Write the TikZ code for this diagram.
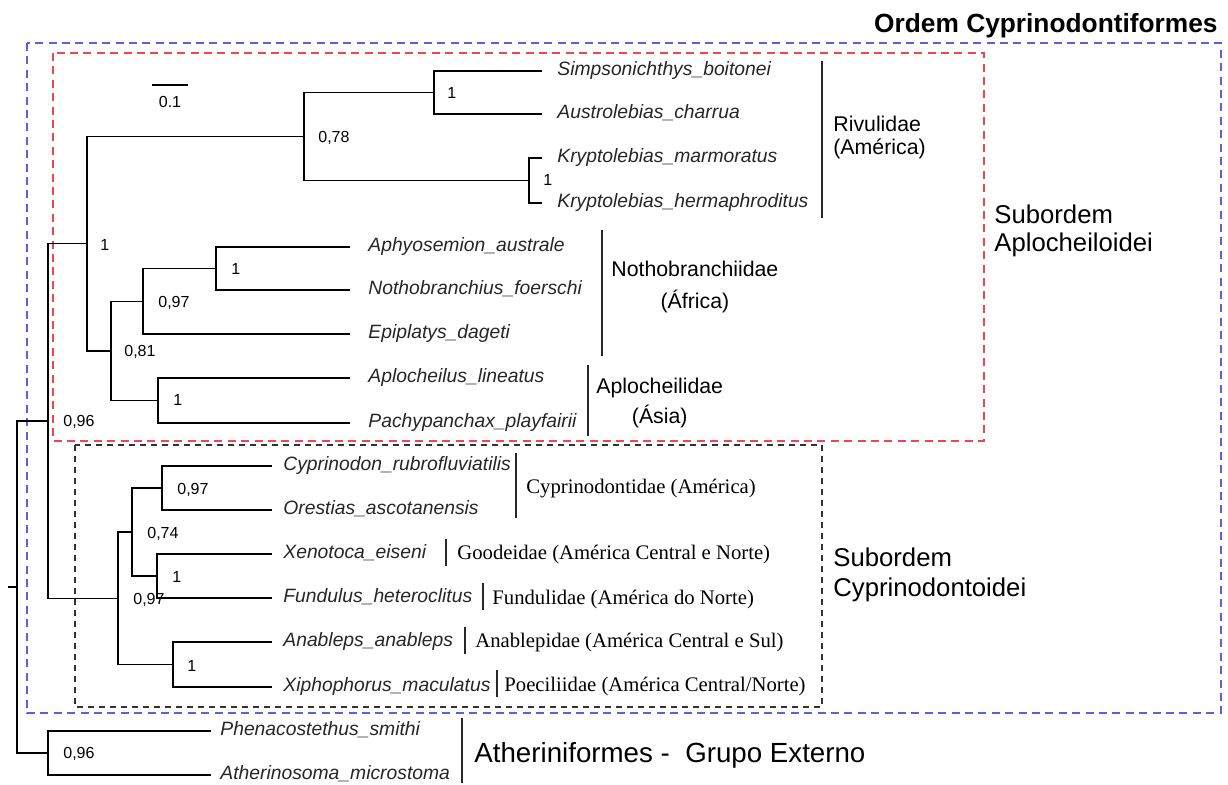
\documentclass[tikz,border=0pt]{standalone}
\usepackage{fontspec}
\setmainfont{Liberation Sans}
\newfontfamily\famserif{Liberation Serif}
\usepackage{tikz}
\usetikzlibrary{positioning}
\usepackage{xcolor}
\definecolor{ordblue}{RGB}{95,95,220}
\definecolor{subred}{RGB}{236,70,82}
\definecolor{bargray}{RGB}{40,40,40}
\tikzstyle{branch} = [line width=0.75pt]
\tikzstyle{famline} = [line width=0.8pt, bargray]
\tikzstyle{taxon} = [inner sep=0pt, font=\fontsize{9.65}{11}\selectfont\itshape, text height=5pt, text depth=0pt, black!85]
\tikzstyle{support} = [inner sep=0pt, anchor=west, font=\fontsize{8}{9}\selectfont, text height=5.7pt, text depth=0pt]
\tikzstyle{famsans} = [inner sep=0pt, anchor=west, font=\fontsize{10.65}{12}\selectfont, text height=7.6pt, text depth=0pt]
\tikzstyle{famtimes} = [inner sep=0pt, anchor=west, font=\famserif\fontsize{10.35}{12}\selectfont, text height=6.85pt, text depth=0pt]
\tikzstyle{grouplbl} = [inner sep=0pt, anchor=west, font=\fontsize{12.85}{14}\selectfont, text height=9.2pt, text depth=0pt]
\tikzstyle{ordbox} = [ordblue, line width=0.6pt, dash pattern=on 4pt off 2.7pt]
\tikzstyle{subbox} = [subred, line width=0.6pt, dash pattern=on 4pt off 2.7pt]
\tikzstyle{cypbox} = [black!80, line width=0.55pt, dash pattern=on 3pt off 2.5pt]

\begin{document}
\begin{tikzpicture}[x=0.5pt, y=-0.5pt]
  \useasboundingbox (0,0) rectangle (1228,785);

  % dashed group boxes
  \draw[ordbox] (27,43) rectangle (1221,713);
  \draw[subbox] (53,53) rectangle (984,441);
  \draw[cypbox] (75,445) rectangle (822,707);

  % internal nodes
  \coordinate (rootstub) at (8,587);
  \coordinate (root) at (17,587);
  \coordinate (cyp) at (48,421);
  \coordinate (out) at (48,753);
  \coordinate (aplo) at (87,243.7);
  \coordinate (riv) at (304,136.5);
  \coordinate (sim) at (434,92.5);
  \coordinate (kry) at (529,180.5);
  \coordinate (afas) at (111,351);
  \coordinate (noth) at (143,301.3);
  \coordinate (aphy) at (216,268.5);
  \coordinate (asia) at (158,400.5);
  \coordinate (cypd) at (118,598.3);
  \coordinate (mid) at (132,532);
  \coordinate (cyprin) at (162,488);
  \coordinate (good) at (157,576);
  \coordinate (anab) at (173,664.5);

  % tips
  \coordinate (t1) at (542,71);
  \coordinate (t2) at (542,114);
  \coordinate (t3) at (542,158);
  \coordinate (t4) at (542,203);
  \coordinate (t5) at (350,247);
  \coordinate (t6) at (350,290);
  \coordinate (t7) at (350,334);
  \coordinate (t8) at (350,378);
  \coordinate (t9) at (350,423);
  \coordinate (t10) at (272,466);
  \coordinate (t11) at (272,510);
  \coordinate (t12) at (272,554);
  \coordinate (t13) at (272,598);
  \coordinate (t14) at (272,642);
  \coordinate (t15) at (272,687);
  \coordinate (t16) at (211,731);
  \coordinate (t17) at (211,775);

  % branches
  \draw[branch] (rootstub) -- (root)
    (root) |- (cyp) (root) |- (out)
    (cyp) |- (aplo) (cyp) |- (cypd)
    (aplo) |- (riv) (aplo) |- (afas)
    (riv) |- (sim) (riv) |- (kry)
    (sim) |- (t1) (sim) |- (t2)
    (kry) |- (t3) (kry) |- (t4)
    (afas) |- (noth) (afas) |- (asia)
    (noth) |- (aphy) (noth) |- (t7)
    (aphy) |- (t5) (aphy) |- (t6)
    (asia) |- (t8) (asia) |- (t9)
    (cypd) |- (mid) (cypd) |- (anab)
    (mid) |- (cyprin) (mid) |- (good)
    (cyprin) |- (t10) (cyprin) |- (t11)
    (good) |- (t12) (good) |- (t13)
    (anab) |- (t14) (anab) |- (t15)
    (out) |- (t16) (out) |- (t17);

  % taxa
  \node[taxon, right=7.5pt of t1] (simpson) {Simpsonichthys\_boitonei};
  \node[taxon, right=7.5pt of t2] (austro) {Austrolebias\_charrua};
  \node[taxon, right=7.5pt of t3] (krymar) {Kryptolebias\_marmoratus};
  \node[taxon, right=7.5pt of t4] (kryher) {Kryptolebias\_hermaphroditus};
  \node[taxon, right=9pt of t5] (aphyo) {Aphyosemion\_australe};
  \node[taxon, right=9pt of t6] (notho) {Nothobranchius\_foerschi};
  \node[taxon, right=9pt of t7] (epipl) {Epiplatys\_dageti};
  \node[taxon, right=9pt of t8] (aploch) {Aplocheilus\_lineatus};
  \node[taxon, right=9pt of t9] (pachy) {Pachypanchax\_playfairii};
  \node[taxon, right=5.5pt of t10] (cyprino) {Cyprinodon\_rubrofluviatilis};
  \node[taxon, right=5.5pt of t11] (orest) {Orestias\_ascotanensis};
  \node[taxon, right=5.5pt of t12] (xeno) {Xenotoca\_eiseni};
  \node[taxon, right=5.5pt of t13] (fundu) {Fundulus\_heteroclitus};
  \node[taxon, right=5.5pt of t14] (anabl) {Anableps\_anableps};
  \node[taxon, right=5.5pt of t15] (xipho) {Xiphophorus\_maculatus};
  \node[taxon, right=4.5pt of t16] (phena) {Phenacostethus\_smithi};
  \node[taxon, right=4.5pt of t17] (ather) {Atherinosoma\_microstoma};

  % support values
  \node[support] (s1) at (447,93) {1};
  \node[support] (s2) at (318,137) {0,78};
  \node[support] (s3) at (543,180) {1};
  \node[support] (s4) at (100,245) {1};
  \node[support] (s5) at (231,269) {1};
  \node[support] (s6) at (158,302) {0,97};
  \node[support] (s7) at (124,351) {0,81};
  \node[support] (s8) at (173,400) {1};
  \node[support] (s9) at (63,421) {0,96};
  \node[support] (s10) at (177,489) {0,97};
  \node[support] (s11) at (147,533) {0,74};
  \node[support] (s12) at (172,577) {1};
  \node[support] (s13) at (133,599) {0,97};
  \node[support] (s14) at (187,666) {1};
  \node[support] (s15) at (63,753) {0,96};

  % scale bar
  \coordinate (sbl) at (152,85);
  \coordinate (sbr) at (188,85);
  \draw[line width=0.6pt] (sbl) -- (sbr);
  \node[support, anchor=center] (sbtxt) at (170,102) {0.1};

  % families
  \draw[famline] (822,61) -- (822,218);
  \node[famsans] (rivLbl) at (833,124) {Rivulidae};
  \node[famsans] (rivReg) at (833,147) {(América)};
  \draw[famline] (602,230) -- (602,356);
  \node[famsans] (nothLbl) at (611,269) {Nothobranchiidae};
  \coordinate (afrY) at (0,301);
  \node[famsans, anchor=center] (nothReg) at (nothLbl.center |- afrY) {(África)};
  \draw[famline] (588,365) -- (588,436);
  \node[famsans] (aplLbl) at (596,386) {Aplocheilidae};
  \coordinate (asiY) at (0,416);
  \node[famsans, anchor=center] (aplReg) at (aplLbl.center |- asiY) {(Ásia)};
  \draw[famline] (516,453) -- (516,518);
  \node[famtimes] (cypLbl) at (526,487) {Cyprinodontidae (América)};
  \draw[famline] (446,539) -- (446,566);
  \node[famtimes] (goodLbl) at (457,553) {Goodeidae (América Central e Norte)};
  \draw[famline] (483,583) -- (483,610);
  \node[famtimes] (fundLbl) at (492,598) {Fundulidae (América do Norte)};
  \draw[famline] (465,627) -- (465,654);
  \node[famtimes] (anabLbl) at (475,641) {Anablepidae (América Central e Sul)};
  \draw[famline] (497,670) -- (497,697);
  \node[famtimes] (poecLbl) at (504,685) {Poeciliidae (América Central/Norte)};
  \draw[famline] (462,718) -- (462,783);
  \node[inner sep=0pt, anchor=west, font=\fontsize{13.85}{16}\selectfont, text height=9.9pt, text depth=0pt] (outLbl) at (474,753) {Atheriniformes -~~Grupo Externo};

  % suborders and order
  \node[grouplbl] (subA1) at (994,214) {Subordem};
  \node[grouplbl] (subA2) at (994,242) {Aplocheiloidei};
  \node[grouplbl] (subC1) at (833,557) {Subordem};
  \node[grouplbl] (subC2) at (833,587) {Cyprinodontoidei};
  \node[inner sep=0pt, anchor=east, font=\bfseries\fontsize{13.15}{15}\selectfont, text height=9.4pt, text depth=0pt] (ordem) at (1218,23) {Ordem Cyprinodontiformes};
\end{tikzpicture}
\end{document}
